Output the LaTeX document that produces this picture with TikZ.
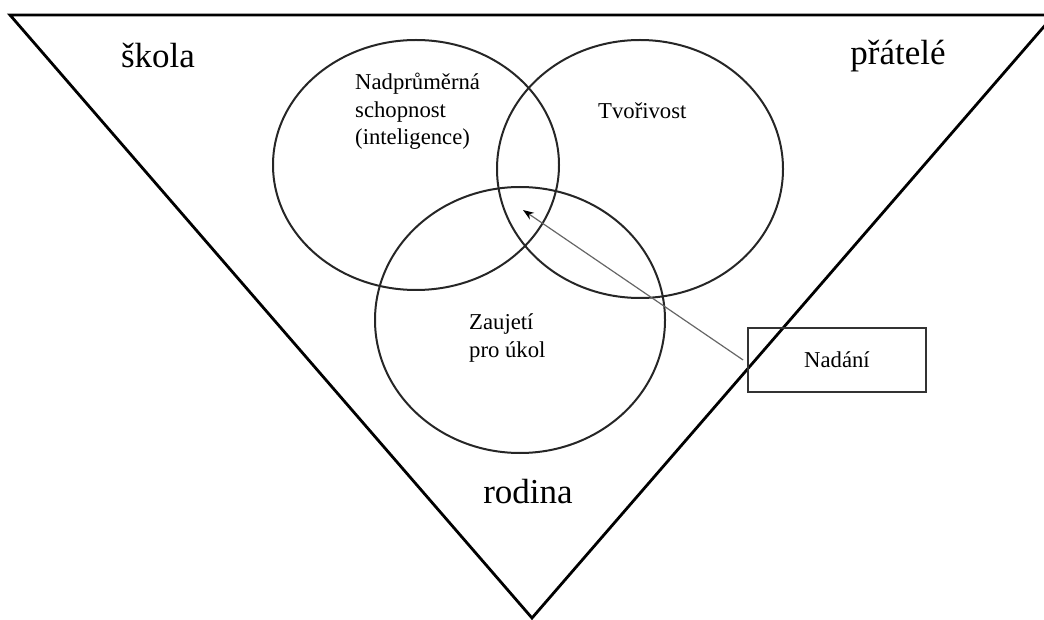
\documentclass[tikz,border=0pt]{standalone}
\usepackage{fontspec}
\setmainfont{Liberation Serif}
\usetikzlibrary{arrows.meta}

\begin{document}
\begin{tikzpicture}[x=1pt,y=-1pt]
    \tikzstyle{ring}=[draw,line width=2pt,black!85]
    \tikzstyle{big}=[inner sep=0,font=\fontsize{35}{42}\selectfont]
    \tikzstyle{small}=[inner sep=0,align=left,font=\fontsize{22.7}{27.5}\selectfont]
    \useasboundingbox (0,0) rectangle (1044,620);
    \clip (0,0) rectangle (1044,620);
    % triangle
    \draw[line width=2.8pt,line join=miter] (10,15) -- (1054,15) -- (532,618) -- cycle;
    % circles
    \draw[ring] (416,165) ellipse [x radius=143,y radius=125];
    \draw[ring] (640,169) ellipse [x radius=143,y radius=129];
    \draw[ring] (520,320) ellipse [x radius=145,y radius=133];
    % labels
    \path (158,68) node[big,anchor=base] (skola) {škola};
    \path (898,65) node[big,anchor=base] (pratele) {přátelé};
    \path (528,503) node[big,anchor=base] (rodina) {rodina};
    \path (355,145) node[small,anchor=base west] (schopnost) {Nadprůměrná\\schopnost\\(inteligence)};
    \path (598,119) node[small,anchor=base west] (tvorivost) {Tvořivost};
    \path (469,357) node[small,anchor=base west] (zaujeti) {Zaujetí\\pro úkol};
    % box
    \path (837,360) node[small,draw,line width=1.8pt,black!80,text=black,minimum width=178,minimum height=64,align=center] (nadani) {Nadání};
    \coordinate (jadro) at (523,210);
    \draw[black!60,line width=1.2pt,-{Stealth[length=11pt,width=8pt,black]}] ([xshift=-4]nadani.west) -- (jadro);
\end{tikzpicture}
\end{document}
